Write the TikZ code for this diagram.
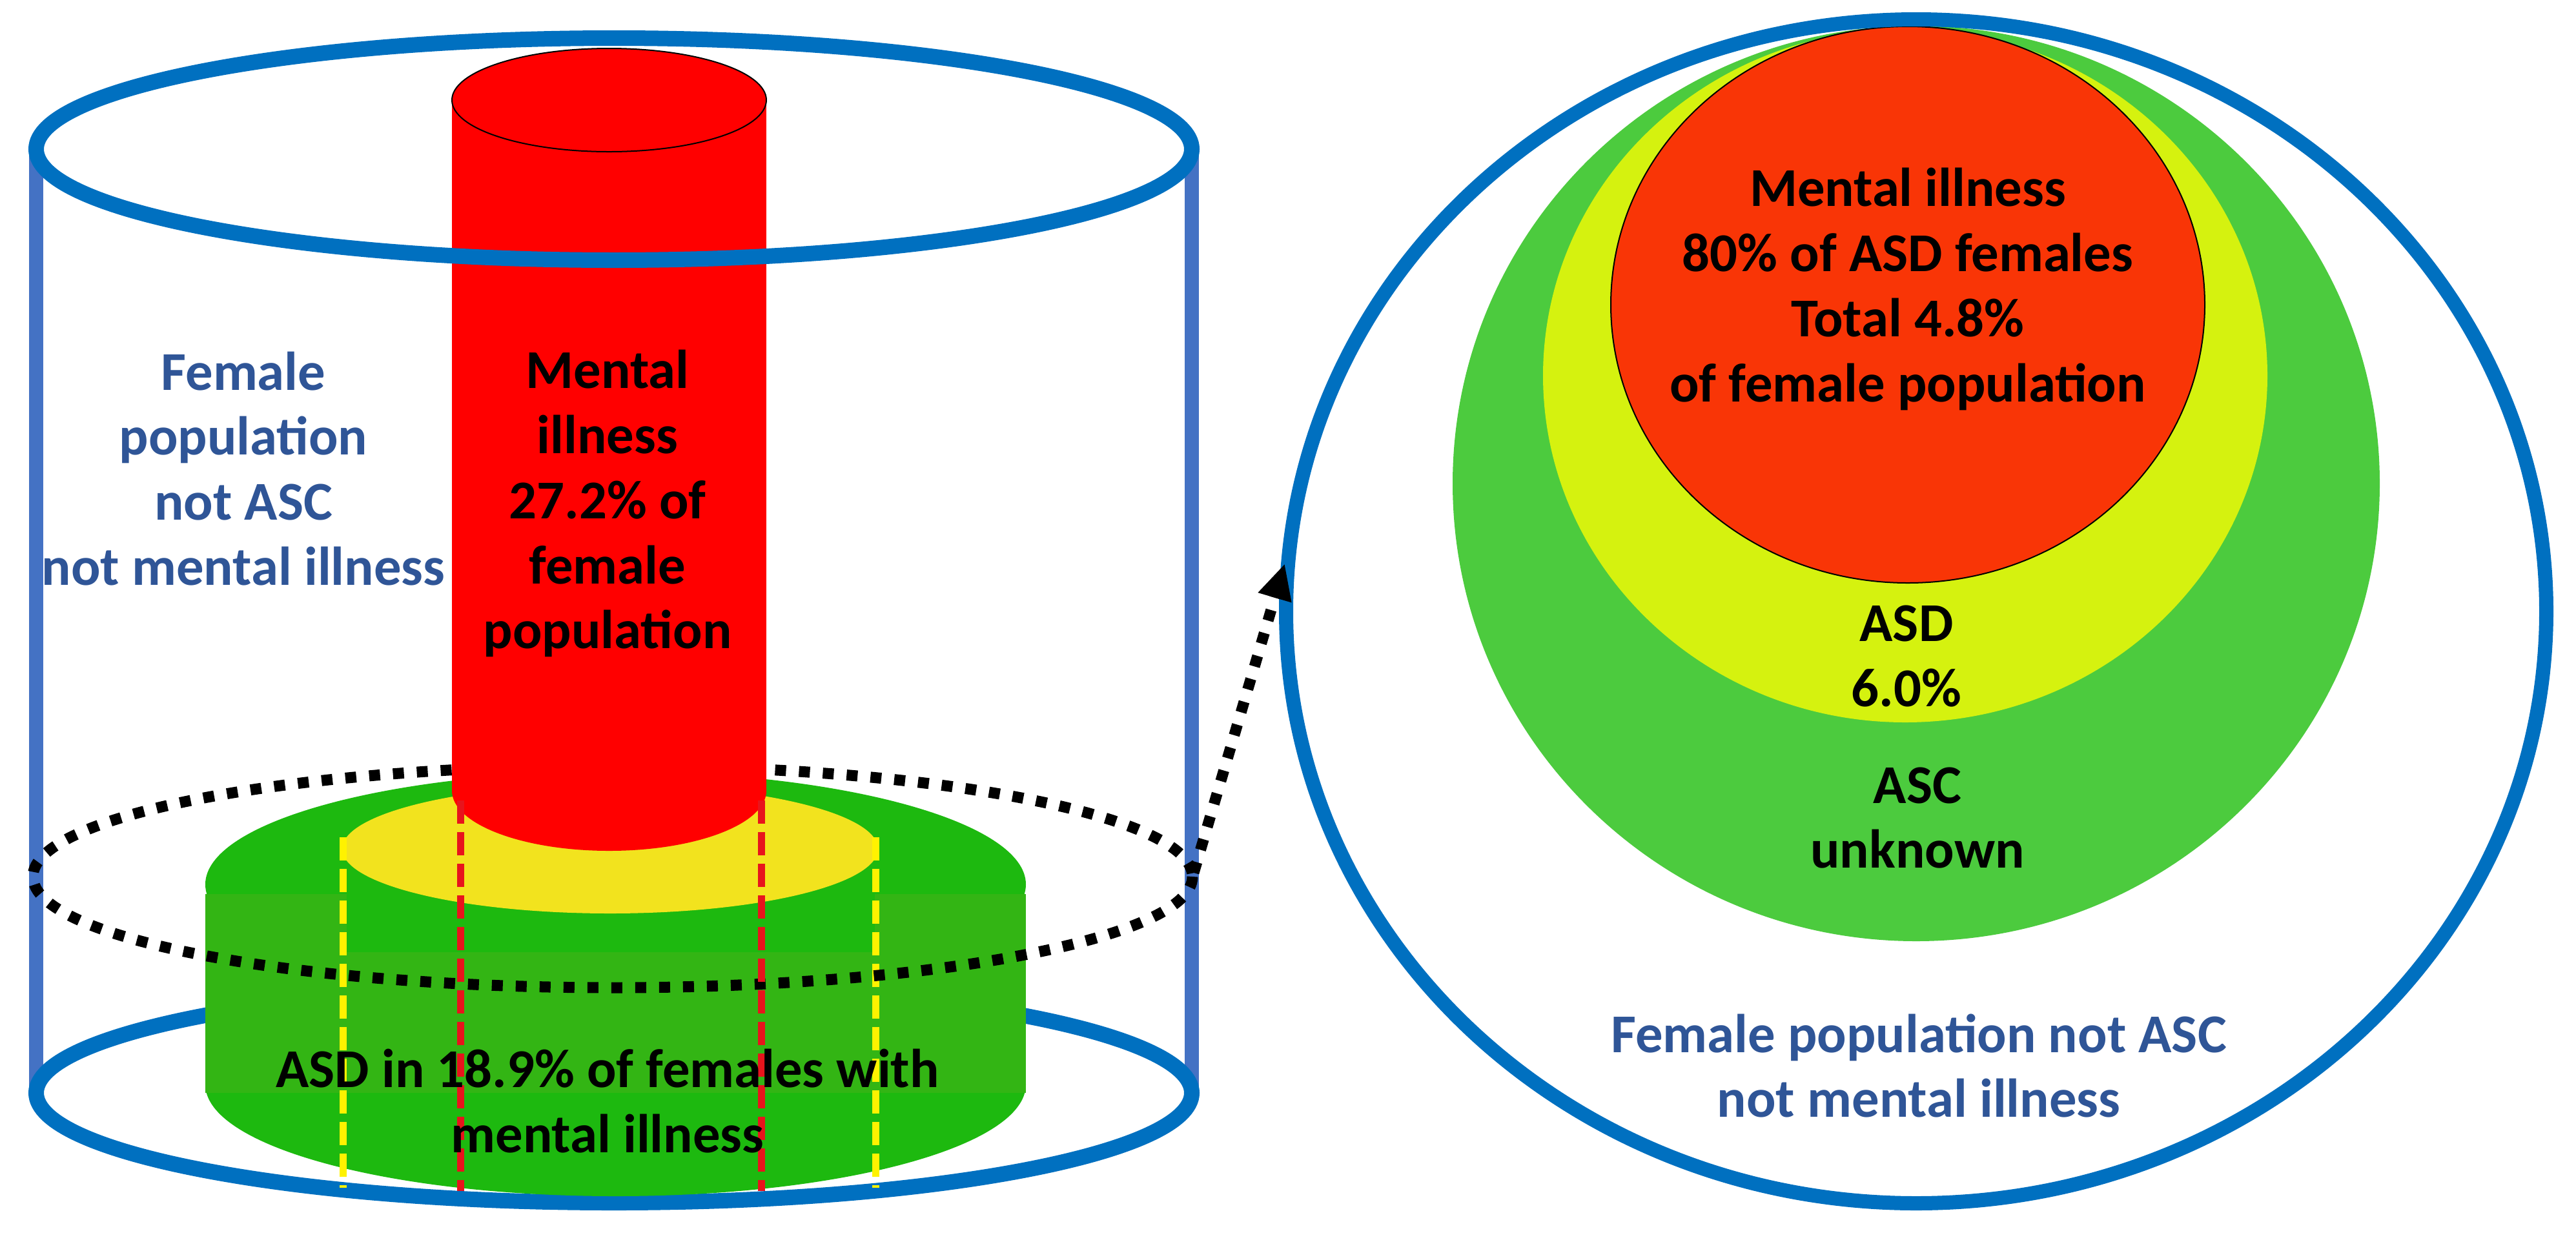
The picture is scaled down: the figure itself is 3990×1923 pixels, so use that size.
\documentclass[tikz,border=0pt]{standalone}
\usepackage{fontspec}
\setmainfont{Carlito}
\usetikzlibrary{arrows.meta}
\definecolor{rimblue}{HTML}{0070C0}
\definecolor{wallblue}{HTML}{4472C4}
\definecolor{popblue}{HTML}{2F5597}
\definecolor{mired}{HTML}{FF0000}
\definecolor{dashred}{HTML}{E8141C}
\definecolor{ascgreen}{HTML}{1DB90F}
\definecolor{ascside}{HTML}{33B514}
\definecolor{asdyellow}{HTML}{F2E31E}
\definecolor{ringgreen}{HTML}{4CCB3E}
\definecolor{ringyellow}{HTML}{D5F20F}
\definecolor{ringred}{HTML}{F93506}

\begin{document}
\begin{tikzpicture}[
      x=0.01cm, y=-0.01cm,
      >=Latex,
      % pixel grid of the figure, y runs downwards
      rim/.style={draw=rimblue, line width=0.24cm},
      wall/.style={draw=wallblue, line width=0.22cm},
      seamyellow/.style={draw=yellow, line width=0.11cm, dash pattern=on 0.36cm off 0.13cm},
      seamred/.style={draw=dashred, line width=0.11cm, dash pattern=on 0.36cm off 0.13cm},
      ringdots/.style={draw=black, line width=0.17cm, dash pattern=on 0.17cm off 0.2cm},
      lbl/.style={align=center, inner sep=0pt, font=\fontsize{24.1}{28.7}\selectfont\bfseries}
    ]
      \useasboundingbox (0,0) rectangle (3990,1923);

      % outer cylinder: walls and base
      \draw[wall] (56,231) -- (56,1693);
      \draw[wall] (1846,231) -- (1846,1693);
      \draw[rim] (951,1693) ellipse [x radius=895, y radius=170];

      % ASC disk with ASD top
      \fill[ascgreen] (953.5,1680) ellipse [x radius=635.5, y radius=173];
      \fill[ascgreen] (953.5,1370) ellipse [x radius=635.5, y radius=175];
      \fill[ascside] (318,1385) rectangle (1589,1693);
      \fill[ascgreen] (537,1384) rectangle (1355,1475);
      \fill[asdyellow] (945,1315) ellipse [x radius=415, y radius=100];
      \draw[seamyellow] (531,1297) -- (531,1840);
      \draw[seamyellow] (1356,1297) -- (1356,1840);

      % dotted cut
      \draw[ringdots] (949,1358) ellipse [x radius=898, y radius=172];

      % mental illness column
      \fill[mired] (700,155) rectangle (1187,1225);
      \fill[mired] (943.5,1225) ellipse [x radius=243.5, y radius=93];
      \draw[seamred] (713,1240) -- (713,1845);
      \draw[seamred] (1179,1240) -- (1179,1845);
      \filldraw[fill=mired, draw=black, line width=0.02cm] (943.5,155) ellipse [x radius=243.5, y radius=80];

      % outer cylinder: top
      \draw[rim] (951,231) ellipse [x radius=895, y radius=172];

      % zoomed cross-section
      \fill[ringgreen] (2968,749) ellipse [x radius=718, y radius=709];
      \fill[ringyellow] (2951,582) ellipse [x radius=561, y radius=537];
      \filldraw[fill=ringred, draw=black, line width=0.02cm] (2955,472) ellipse [x radius=460, y radius=431];
      \draw[rim, line width=0.22cm] (2968,947) ellipse [x radius=976, y radius=917];

      \coordinate (ringE) at (1849,1352);
      \coordinate (zoomtip) at (1990,873);
      \draw[ringdots, -{Triangle[length=0.55cm,width=0.5cm]}] (ringE) -- (zoomtip);

      % labels
      \node[lbl, text=popblue] (popL) at (377,726) {Female\\population\\not ASC\\not mental illness};
      \node[lbl] (miL) at (941,780) {Mental\\illness\\27.2\% of\\female\\population};
      \node[lbl] (asdL) at (941,1706) {ASD in 18.9\% of females with\\mental illness};
      \node[lbl] (miR) at (2955,448) {Mental illness\\80\% of ASD females\\Total 4.8\%\\of female population};
      \node[lbl] (asdR) at (2953,1017) {ASD\\6.0\%};
      \node[lbl] (ascR) at (2970,1267) {ASC\\unknown};
      \node[lbl, text=popblue] (popR) at (2972,1651) {Female population not ASC\\not mental illness};
    \end{tikzpicture}
\end{document}
